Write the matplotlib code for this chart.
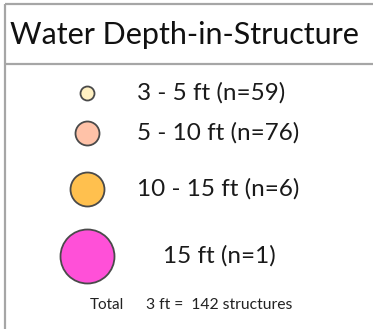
import matplotlib.pyplot as plt

# legend data
title = "Water Depth-in-Structure"
depth_classes = ["3 - 5 ft", "5 - 10 ft", "10 - 15 ft", "15 ft"]
counts = [59, 76, 6, 1]
total_label = "3 ft"
total_count = 142

# styling
colors = ["#FFF0C2", "#FFC2A8", "#FFC04E", "#FF50D8"]
radii = [7, 12, 17, 27]           # px
row_y = [93, 133, 189, 256]       # px from top
text_x = [137, 137, 137, 163]

W, H = 373, 329
dpi = 100
plt.rcParams['font.family'] = ['Lato', 'DejaVu Sans']

fig = plt.figure(figsize=(W / dpi, H / dpi), dpi=dpi)
ax = fig.add_axes([0, 0, 1, 1])
ax.set_xlim(0, W)
ax.set_ylim(H, 0)
ax.axis('off')

# frame: left, top, header divider
gray = "#A6A6A6"
ax.plot([5, 5], [4, H], color=gray, lw=1.6, solid_capstyle='butt')
ax.plot([5, W], [4, 4], color=gray, lw=1.6, solid_capstyle='butt')
ax.plot([5, W], [64, 64], color=gray, lw=1.6, solid_capstyle='butt')

ax.text(10, 35, title, fontsize=22, color="#111111", va='center', ha='left')

for cls, n, c, r, y, tx in zip(depth_classes, counts, colors, radii, row_y, text_x):
    d_pt = 2 * r * 72 / dpi
    ax.scatter([87], [y], s=d_pt ** 2, color=c, edgecolors="#4A4A4A", linewidths=1.3, zorder=3)
    ax.text(tx, y, f"{cls} (n={n})", fontsize=17.5, color="#1A1A1A", va='center', ha='left')

ax.text(90, 305, "Total", fontsize=11, color="#222222", va='center', ha='left')
ax.text(146, 305, f"{total_label} =  {total_count} structures", fontsize=11.3,
        color="#222222", va='center', ha='left')

fig.savefig("out.png", dpi=dpi)
